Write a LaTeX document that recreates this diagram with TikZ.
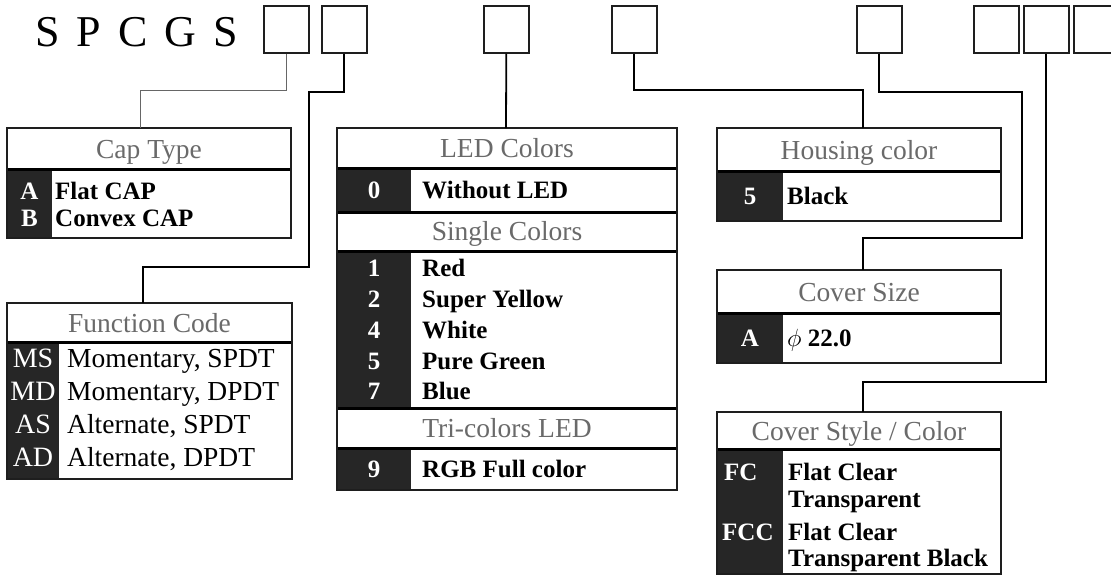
\documentclass[tikz,border=0pt]{standalone}
\usepackage{fontspec}
\setmainfont{Liberation Serif}
\usetikzlibrary{calc}
\definecolor{darkc}{HTML}{262626}
\definecolor{hdrc}{HTML}{6A6A6A}
\definecolor{linec}{HTML}{1E1E1E}
\begin{document}
\begin{tikzpicture}[x=1pt,y=-1pt,
  topbox/.style={draw=linec,line width=1.6pt,minimum width=45pt,minimum height=47pt,inner sep=0pt,anchor=north west},
  frame/.style={draw=linec,line width=2pt},
  sepline/.style={draw=black,line width=3pt},
  conn/.style={draw=black,line width=1.8pt},
  thinconn/.style={draw=black!60,line width=1pt},
  hdr/.style={text=hdrc,font=\fontsize{27.5}{30}\selectfont,inner sep=0pt,anchor=base,yshift=-9.1pt},
  body/.style={text=black,font=\bfseries\fontsize{25}{28}\selectfont,inner sep=0pt,anchor=base west,yshift=-8.3pt},
  fbody/.style={text=black,font=\fontsize{27.5}{30}\selectfont,inner sep=0pt,anchor=base west,yshift=-9.1pt},
  code/.style={text=white,font=\bfseries\fontsize{25}{28}\selectfont,inner sep=0pt,anchor=base,yshift=-8.3pt},
  lcode/.style={text=white,font=\bfseries\fontsize{25}{28}\selectfont,inner sep=0pt,anchor=base west,yshift=-8.3pt},
  fcode/.style={text=white,font=\fontsize{28}{30}\selectfont,inner sep=0pt,anchor=base,yshift=-9.3pt},
  tbl/.style={inner sep=0pt,anchor=north west}
]
\useasboundingbox[fill=white] (0,0) rectangle (1111,576);

% title
\node[inner sep=0pt,anchor=base west,font=\fontsize{44}{48}\selectfont] (title) at (35,46)
  {\makebox[203pt][s]{S\hfill P\hfill C\hfill G\hfill S}};

% top boxes
\node[topbox] (b1) at (263,5) {};
\node[topbox] (b2) at (321,5) {};
\node[topbox] (b3) at (483,5) {};
\node[topbox] (b4) at (611,5) {};
\node[topbox] (b5) at (856,5) {};
\node[topbox] (b6) at (973,5) {};
\node[topbox] (b7) at (1023,5) {};
\node[topbox] (b8) at (1073,5) {};

% ---------- Cap Type ----------
\node[tbl,minimum width=284pt,minimum height=110pt] (cap) at (7,128) {};
\fill[darkc] (7,169) rectangle (52,238);
\draw[sepline] (7,169) -- (291,169);
\draw[frame] (cap.north west) rectangle (cap.south east);
\node[hdr] at (149,149) {Cap Type};
\node[code] at (29.5,191) {A};
\node[body] at (55,191) {Flat CAP};
\node[code] at (29.5,218) {B};
\node[body] at (55,218) {Convex CAP};

% ---------- Function Code ----------
\node[tbl,minimum width=285pt,minimum height=176pt] (fun) at (7,303) {};
\fill[darkc] (7,342) rectangle (59,479);
\draw[sepline] (7,342) -- (292,342);
\draw[frame] (fun.north west) rectangle (fun.south east);
\node[hdr] at (149.5,323) {Function Code};
\node[fcode] at (33,358) {MS};
\node[fbody] at (67,358) {Momentary, SPDT};
\node[fcode] at (33,391) {MD};
\node[fbody] at (67,391) {Momentary, DPDT};
\node[fcode] at (33,424) {AS};
\node[fbody] at (67,424) {Alternate, SPDT};
\node[fcode] at (33,457) {AD};
\node[fbody] at (67,457) {Alternate, DPDT};

% ---------- LED Colors ----------
\node[tbl,minimum width=340pt,minimum height=362pt] (led) at (337,128) {};
\fill[darkc] (337,168) rectangle (411,212);
\fill[darkc] (337,251) rectangle (411,408);
\fill[darkc] (337,448) rectangle (411,490);
\draw[sepline] (337,168) -- (677,168);
\draw[sepline] (337,212) -- (677,212);
\draw[sepline] (337,251) -- (677,251);
\draw[sepline] (337,408) -- (677,408);
\draw[sepline] (337,448) -- (677,448);
\draw[frame] (led.north west) rectangle (led.south east);
\node[hdr] at (507,148) {LED Colors};
\node[code] at (374,190) {0};
\node[body] at (422,190) {Without LED};
\node[hdr] at (507,231) {Single Colors};
\node[code] at (374,268) {1};
\node[body] at (422,268) {Red};
\node[code] at (374,299) {2};
\node[body] at (422,299) {Super Yellow};
\node[code] at (374,330) {4};
\node[body] at (422,330) {White};
\node[code] at (374,361) {5};
\node[body] at (422,361) {Pure Green};
\node[code] at (374,391) {7};
\node[body] at (422,391) {Blue};
\node[hdr] at (507,428) {Tri-colors LED};
\node[code] at (374,469) {9};
\node[body] at (422,469) {RGB Full color};

% ---------- Housing color ----------
\node[tbl,minimum width=284pt,minimum height=93pt] (hou) at (717,128) {};
\fill[darkc] (717,171) rectangle (783,221);
\draw[sepline] (717,171) -- (1001,171);
\draw[frame] (hou.north west) rectangle (hou.south east);
\node[hdr] at (859,150) {Housing color};
\node[code] at (750,196) {5};
\node[body] at (787,196) {Black};

% ---------- Cover Size ----------
\node[tbl,minimum width=284pt,minimum height=93pt] (csz) at (717,270) {};
\fill[darkc] (717,313) rectangle (783,363);
\draw[sepline] (717,313) -- (1001,313);
\draw[frame] (csz.north west) rectangle (csz.south east);
\node[hdr] at (859,292) {Cover Size};
\node[code] at (750,338) {A};
\node[body] at (787,338) {$\phi$ 22.0};

% ---------- Cover Style / Color ----------
\node[tbl,minimum width=284pt,minimum height=162pt] (cst) at (717,412) {};
\fill[darkc] (717,449) rectangle (783,574);
\draw[sepline] (717,449) -- (1001,449);
\draw[frame] (cst.north west) rectangle (cst.south east);
\node[hdr] at (859,431) {Cover Style / Color};
\node[lcode] at (724,472) {FC};
\node[body] at (788,472) {Flat Clear};
\node[body] at (788,499) {Transparent};
\node[lcode] at (722,532) {FCC};
\node[body] at (788,532) {Flat Clear};
\node[body] at (788,558) {Transparent Black};

% ---------- connectors ----------
\coordinate (capin) at (140,128);
\coordinate (funin) at (143,303);
\coordinate (ledin) at (506,128);
\coordinate (houin) at (863,128);
\coordinate (cszin) at (863,270);
\coordinate (cstin) at (863,412);

\draw[thinconn] (b1.south) |- ([yshift=38pt]capin) -- (capin);
\draw[conn] (b2.south) -- ++(0,38) -| (309,267) -| (funin);
\draw[conn] (b3.south) -- (ledin);
\draw[conn] (b4.south) |- ([yshift=38pt]houin) -- (houin);
\draw[conn] (b5.south) -- ++(0,38) -| (1022,238) -| (cszin);
\draw[conn] (b7.south) |- ([yshift=30pt]cstin) -- (cstin);
\end{tikzpicture}
\end{document}
